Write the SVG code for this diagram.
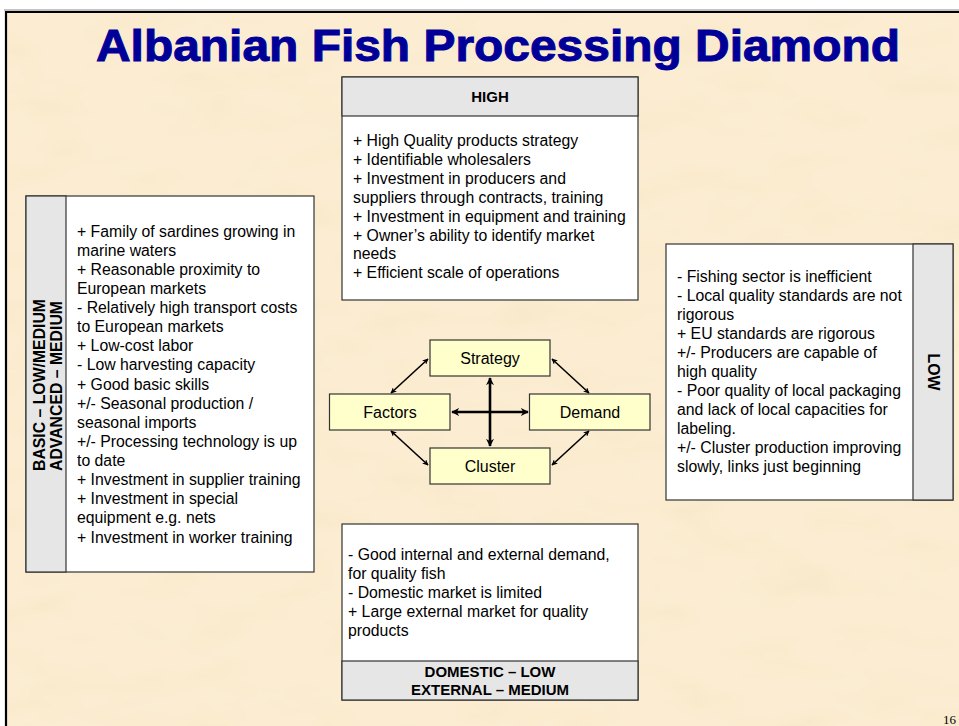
<svg xmlns="http://www.w3.org/2000/svg" width="959" height="726" viewBox="0 0 959 726">
  <defs>
    <filter id="parchment" x="0" y="0" width="100%" height="100%">
      <feTurbulence type="fractalNoise" baseFrequency="0.012 0.03" numOctaves="3" seed="7" result="noise"/>
      <feColorMatrix in="noise" type="matrix" values="0 0 0 0 0.93  0 0 0 0 0.80  0 0 0 0 0.58  0 0 0 1.6 -0.72" result="tint"/>
      <feComposite in="tint" in2="SourceGraphic" operator="over"/>
    </filter>
    <marker id="tip" viewBox="0 0 10 10" refX="9" refY="5" markerWidth="6" markerHeight="6" markerUnits="userSpaceOnUse" orient="auto-start-reverse">
      <path d="M0,0 L10,5 L0,10 L3,5 Z" fill="#000"/>
    </marker>
    <marker id="tipBold" viewBox="0 0 10 10" refX="9" refY="5" markerWidth="8" markerHeight="8" markerUnits="userSpaceOnUse" orient="auto-start-reverse">
      <path d="M0,0 L10,5 L0,10 L3,5 Z" fill="#000"/>
    </marker>
  </defs>
  <style>
    .panel { fill: #ffffff; stroke: #333333; stroke-width: 1.2; }
    .band { fill: #e6e6e6; stroke: #333333; stroke-width: 1.2; }
    .node { fill: #ffffcc; stroke: #333333; stroke-width: 1.2; }
    .body { font-family: "Liberation Sans", Arial, sans-serif; font-size: 15.8px; fill: #000; }
    .head { font-family: "Liberation Sans", Arial, sans-serif; font-size: 15px; font-weight: bold; fill: #000; }
    .side { font-family: "Liberation Sans", Arial, sans-serif; font-size: 15.8px; font-weight: bold; fill: #000; }
    .label { font-family: "Liberation Sans", Arial, sans-serif; font-size: 16px; fill: #000; text-anchor: middle; }
    .link { stroke: #000; stroke-width: 1.6; fill: none; marker-start: url(#tip); marker-end: url(#tip); }
    .axis { stroke: #000; stroke-width: 2.6; fill: none; marker-start: url(#tipBold); marker-end: url(#tipBold); }
  </style>

  <!-- page and slide background -->
  <rect x="0" y="0" width="959" height="726" fill="#ffffff"/>
  <rect x="6" y="12" width="960" height="720" fill="#fcedd2" filter="url(#parchment)"/>
  <path d="M6,726 V12 H959" fill="none" stroke="#000" stroke-width="2.2"/>
  <path d="M4,10 H959" fill="none" stroke="#888" stroke-width="1"/>

  <!-- title -->
  <text x="96" y="61" font-family="'Liberation Sans', Arial, sans-serif" font-size="45" font-weight="bold" fill="#000099" stroke="#000099" stroke-width="1" textLength="804" lengthAdjust="spacingAndGlyphs">Albanian Fish Processing Diamond</text>

  <!-- strategy panel (top) -->
  <g id="panel-strategy">
    <rect class="panel" x="342" y="77" width="296" height="223"/>
    <rect class="band" x="342" y="77" width="296" height="39"/>
    <text class="head" x="490" y="102" text-anchor="middle">HIGH</text>
    <text class="body">
      <tspan x="353" y="146">+ High Quality products strategy</tspan>
      <tspan x="353" y="165">+ Identifiable wholesalers</tspan>
      <tspan x="353" y="184">+ Investment in producers and</tspan>
      <tspan x="353" y="203">suppliers through contracts, training</tspan>
      <tspan x="353" y="222">+ Investment in equipment and training</tspan>
      <tspan x="353" y="241">+ Owner’s ability to identify market</tspan>
      <tspan x="353" y="259">needs</tspan>
      <tspan x="353" y="278">+ Efficient scale of operations</tspan>
    </text>
  </g>

  <!-- factors panel (left) -->
  <g id="panel-factors">
    <rect class="panel" x="26" y="196" width="288" height="376"/>
    <rect class="band" x="26" y="196" width="40" height="376"/>
    <text class="side" transform="translate(45,471) rotate(-90)">BASIC – LOW/MEDIUM</text>
    <text class="side" transform="translate(62,471) rotate(-90)">ADVANCED – MEDIUM</text>
    <text class="body">
      <tspan x="77" y="236.5">+ Family of sardines growing in</tspan>
      <tspan x="77" y="255.6">marine waters</tspan>
      <tspan x="77" y="274.8">+ Reasonable proximity to</tspan>
      <tspan x="77" y="293.9">European markets</tspan>
      <tspan x="77" y="313">- Relatively high transport costs</tspan>
      <tspan x="77" y="332.2">to European markets</tspan>
      <tspan x="77" y="351.3">+ Low-cost labor</tspan>
      <tspan x="77" y="370.4">-  Low harvesting capacity</tspan>
      <tspan x="77" y="389.5">+ Good basic skills</tspan>
      <tspan x="77" y="408.7">+/- Seasonal production /</tspan>
      <tspan x="77" y="427.8">seasonal imports</tspan>
      <tspan x="77" y="446.9">+/- Processing technology is up</tspan>
      <tspan x="77" y="466.1">to date</tspan>
      <tspan x="77" y="485.2">+ Investment in supplier training</tspan>
      <tspan x="77" y="504.3">+ Investment in special</tspan>
      <tspan x="77" y="523.4">equipment e.g. nets</tspan>
      <tspan x="77" y="542.6">+ Investment in worker training</tspan>
    </text>
  </g>

  <!-- cluster panel (right) -->
  <g id="panel-cluster">
    <rect class="panel" x="666" y="244" width="287" height="256"/>
    <rect class="band" x="913" y="244" width="40" height="256"/>
    <text class="side" transform="translate(928,372) rotate(90)" text-anchor="middle">LOW</text>
    <text class="body">
      <tspan x="677" y="282">- Fishing sector is inefficient</tspan>
      <tspan x="677" y="301">- Local quality standards are not</tspan>
      <tspan x="677" y="320">rigorous</tspan>
      <tspan x="677" y="339">+ EU standards are rigorous</tspan>
      <tspan x="677" y="358">+/- Producers are capable of</tspan>
      <tspan x="677" y="377">high quality</tspan>
      <tspan x="677" y="396">- Poor quality of local packaging</tspan>
      <tspan x="677" y="415">and lack of local capacities for</tspan>
      <tspan x="677" y="434">labeling.</tspan>
      <tspan x="677" y="453">+/- Cluster production improving</tspan>
      <tspan x="677" y="472">slowly, links just beginning</tspan>
    </text>
  </g>

  <!-- demand panel (bottom) -->
  <g id="panel-demand">
    <rect class="panel" x="342" y="524" width="296" height="176"/>
    <rect class="band" x="342" y="661" width="296" height="39"/>
    <text class="body">
      <tspan x="348" y="560">- Good internal and external demand,</tspan>
      <tspan x="348" y="579">for quality fish</tspan>
      <tspan x="348" y="598">- Domestic market is limited</tspan>
      <tspan x="348" y="617">+ Large external market for quality</tspan>
      <tspan x="348" y="636">products</tspan>
    </text>
    <text class="head" x="490" y="677" text-anchor="middle">DOMESTIC – LOW</text>
    <text class="head" x="490" y="695" text-anchor="middle">EXTERNAL – MEDIUM</text>
  </g>

  <!-- diamond nodes -->
  <g id="node-strategy">
    <rect class="node" x="430" y="340" width="120" height="36"/>
    <text class="label" x="490" y="363.5">Strategy</text>
  </g>
  <g id="node-factors">
    <rect class="node" x="329.5" y="394" width="120.5" height="36"/>
    <text class="label" x="390" y="417.5">Factors</text>
  </g>
  <g id="node-demand">
    <rect class="node" x="529.5" y="394" width="120.5" height="36"/>
    <text class="label" x="590" y="417.5">Demand</text>
  </g>
  <g id="node-cluster">
    <rect class="node" x="430" y="448" width="120" height="36"/>
    <text class="label" x="490" y="471.5">Cluster</text>
  </g>

  <!-- connectors -->
  <g id="connectors">
    <line class="link" x1="428" y1="359" x2="391" y2="393"/>
    <line class="link" x1="552" y1="359" x2="589" y2="393"/>
    <line class="link" x1="391" y1="431" x2="428" y2="465"/>
    <line class="link" x1="589" y1="431" x2="552" y2="465"/>
    <line class="axis" x1="490" y1="378" x2="490" y2="446"/>
    <line class="axis" x1="452" y1="412" x2="528" y2="412"/>
  </g>

  <!-- page number -->
  <text x="943" y="724" font-family="'Liberation Serif', 'Times New Roman', serif" font-size="13" fill="#000">16</text>
</svg>
